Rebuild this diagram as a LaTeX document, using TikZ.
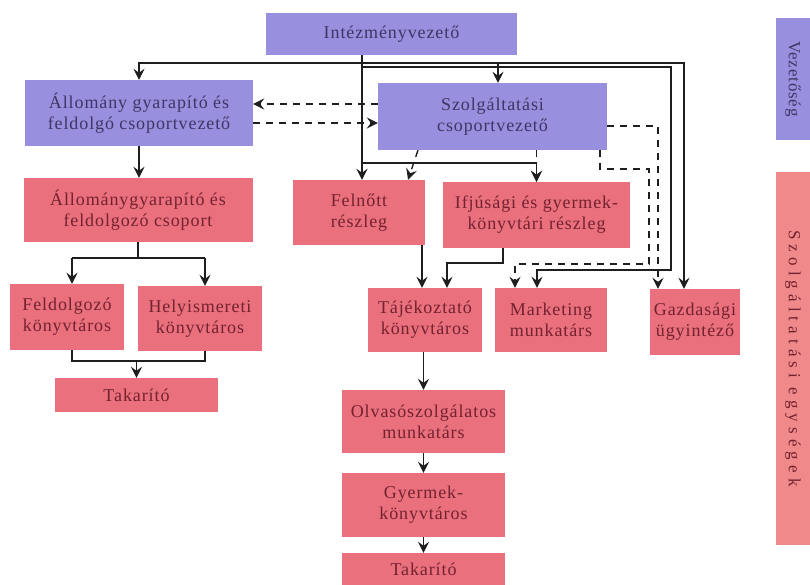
\documentclass[tikz,border=0pt]{standalone}
\usepackage{fontspec}
\setmainfont{Liberation Serif}[LetterSpace=5]
\usetikzlibrary{arrows.meta,calc}
\definecolor{leadc}{RGB}{152,143,222}
\definecolor{unitc}{RGB}{233,112,124}
\definecolor{unitlt}{RGB}{240,138,138}
\definecolor{leadtxt}{RGB}{62,54,100}
\definecolor{unittxt}{RGB}{115,34,48}
\definecolor{lnc}{RGB}{30,30,30}
\begin{document}
\begin{tikzpicture}[x=1pt,y=-1pt,
  lbox/.style={fill=leadc, text=leadtxt, inner sep=0pt, align=center, font=\fontsize{18}{21}\selectfont},
  ubox/.style={fill=unitc, text=unittxt, inner sep=0pt, align=center, font=\fontsize{18}{21}\selectfont},
  sz/.style 2 args={minimum width=#1pt, minimum height=#2pt},
  conn/.style={draw=lnc, line width=1.4pt},
  arr/.style={conn, -{Stealth[length=11pt,width=11pt,inset=4pt]}},
  darr/.style={arr, dash pattern=on 7pt off 6pt},
  dconn/.style={conn, dash pattern=on 7pt off 6pt}]
\fill[white] (0,0) rectangle (810,585);
\useasboundingbox (0,0) rectangle (810,585);

% nodes
\node[lbox, sz={251}{42}] (iv) at (391.5,34) {Intézményvezető};
\node[lbox, sz={228}{66}] (avez) at (139,113) {Állomány gyarapító és\\feldolgó csoportvezető};
\node[lbox, sz={229}{67}] (szvez) at (492.5,116.5) {Szolgáltatási\\csoportvezető};
\node[lbox, sz={122}{34}, rotate=-90, font=\fontsize{17}{19}\selectfont] (vez) at (793,79) {Vezetőség};
\node[ubox, sz={229}{64}] (acs) at (138,210) {Állománygyarapító és\\feldolgozó csoport};
\node[ubox, sz={132}{65}] (felnott) at (359,212.5) {Felnőtt\\részleg};
\node[ubox, sz={187}{66}] (ifj) at (536.5,215) {Ifjúsági és gyermek-\\könyvtári részleg};
\node[ubox, sz={114}{66}] (feld) at (67,317) {Feldolgozó\\könyvtáros};
\node[ubox, sz={124}{65}] (hely) at (200,318.5) {Helyismereti\\könyvtáros};
\node[ubox, sz={163}{34}] (tak1) at (136.5,395) {Takarító};
\node[ubox, sz={114}{64}] (taj) at (425,320) {Tájékoztató\\könyvtáros};
\node[ubox, sz={112}{64}] (mark) at (551,320) {Marketing\\munkatárs};
\node[ubox, sz={90}{66}] (gaz) at (695,322) {Gazdasági\\ügyintéző};
\node[ubox, sz={163}{63}] (olv) at (423.5,421.5) {Olvasószolgálatos\\munkatárs};
\node[ubox, sz={163}{64}] (gyk) at (423.5,505) {Gyermek-\\könyvtáros};
\node[ubox, sz={163}{32}] (tak2) at (423.5,569) {Takarító};
\node[ubox, fill=unitlt, sz={373}{34}, rotate=-90, font=\fontsize{17}{19}\selectfont\addfontfeatures{LetterSpace=30}] (szeg) at (793,358.5) {Szolgáltatási egységek};

% helper coordinates
\coordinate (x72) at (72,0);
\coordinate (x205) at (205,0);
\coordinate (x362) at (362,0);
\coordinate (x408) at (408,0);
\coordinate (x418) at (418,0);
\coordinate (x422) at (422,0);
\coordinate (x447) at (447,0);
\coordinate (x498) at (498,0);
\coordinate (x503) at (503,0);
\coordinate (x515) at (515,0);
\coordinate (x537) at (537,0);
\coordinate (x600) at (600,0);
\coordinate (x649) at (649,0);
\coordinate (x658) at (658,0);
\coordinate (x671) at (671,0);
\coordinate (x684) at (684,0);
\coordinate (y63) at (0,63);
\coordinate (y67) at (0,67);
\coordinate (y104) at (0,104);
\coordinate (y123) at (0,123);
\coordinate (y126) at (0,126);
\coordinate (y163) at (0,163);
\coordinate (y169) at (0,169);
\coordinate (y258) at (0,258);
\coordinate (y263) at (0,263);
\coordinate (y264) at (0,264);
\coordinate (y270) at (0,270);
\coordinate (y361) at (0,361);

% Intezmenyvezeto connectors
\draw[arr] (iv.south -| x362) -- (felnott.north -| x362);
\draw[arr] (x362 |- y63) -| (avez.north);
\draw[arr] (x362 |- y63) -| (szvez.north -| x498);
\draw[arr] (x362 |- y63) -| (gaz.north -| x684);
\draw[arr] (x362 |- y67) -- (x671 |- y67) -- (x671 |- y270) -- (x537 |- y270) -- (mark.north -| x537);
\draw[arr] (x362 |- y163) -| (ifj.north);

% Szolgaltatasi csoportvezeto (dashed)
\draw[darr] (szvez.south -| x418) -- (felnott.north -| x408);
\draw[darr] (szvez.south -| ifj.north) -- (ifj.north);
\draw[darr] (szvez.south -| x600) -- (x600 |- y169) -- (x649 |- y169) -- (x649 |- y264) -- (x515 |- y264) -- (mark.north -| x515);
\draw[darr] (szvez.east |- y126) -- (x658 |- y126) -- (gaz.north -| x658);
\draw[darr] (szvez.west |- y104) -- (avez.east |- y104);
\draw[darr] (avez.east |- y123) -- (szvez.west |- y123);

% left branch
\draw[arr] (avez.south) -- (avez.south |- acs.north);
\draw[conn] (acs.south) -- (acs.south |- y258);
\draw[arr] (x72 |- y258) -- (feld.north -| x72);
\draw[arr] (x205 |- y258) -- (hely.north -| x205);
\draw[conn] (x72 |- y258) -- (x205 |- y258);
\draw[conn] (feld.south -| x72) -- (x72 |- y361) -- (x205 |- y361) -- (hely.south -| x205);
\draw[arr] (tak1.north |- y361) -- (tak1.north);

% middle branch
\draw[arr] (felnott.south -| x422) -- (taj.north -| x422);
\draw[arr] (ifj.south -| x503) -- (x503 |- y263) -- (x447 |- y263) -- (taj.north -| x447);
\draw[arr] (taj.south -| olv.north) -- (olv.north);
\draw[arr] (olv.south) -- (gyk.north);
\draw[arr] (gyk.south) -- (tak2.north);
\end{tikzpicture}
\end{document}
